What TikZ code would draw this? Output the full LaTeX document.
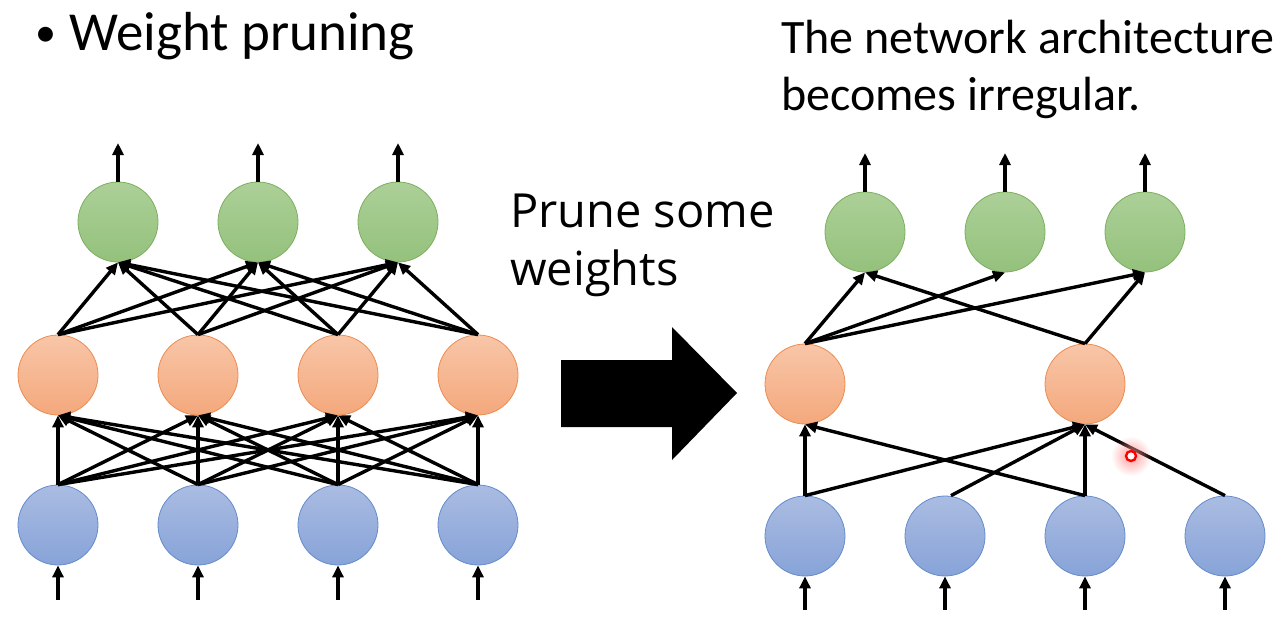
\documentclass[tikz,border=0pt]{standalone}
\usepackage{fontspec}
\setmainfont{Carlito}
\newfontfamily\osans{Open Sans}
\usetikzlibrary{arrows.meta,fadings}
\definecolor{gtop}{RGB}{172,208,152}
\definecolor{gbot}{RGB}{148,193,124}
\definecolor{gline}{RGB}{125,175,95}
\definecolor{otop}{RGB}{248,198,168}
\definecolor{obot}{RGB}{244,168,124}
\definecolor{oline}{RGB}{237,140,80}
\definecolor{btop}{RGB}{170,188,226}
\definecolor{bbot}{RGB}{135,163,216}
\definecolor{bline}{RGB}{100,140,205}
\tikzfading[name=halofade, inner color=transparent!0, outer color=transparent!100]
\begin{document}
\begin{tikzpicture}[x=1pt,y=-1pt,
  neuron/.style={circle, minimum size=80pt, inner sep=0pt, line width=0.8pt},
  gnode/.style={neuron, draw=gline, top color=gtop, bottom color=gbot},
  onode/.style={neuron, draw=oline, top color=otop, bottom color=obot},
  bnode/.style={neuron, draw=bline, top color=btop, bottom color=bbot},
  edge/.style={line width=3.4pt, -{Triangle[length=12pt,width=11pt]}},
  txt/.style={inner sep=0pt, anchor=base west},
]
\useasboundingbox (0,0) rectangle (1276,630);

% texts
\node[txt, font=\fontsize{42}{50}\selectfont] (bul) at (35,46) {•};
\node[txt, font=\fontsize{55}{66}\selectfont] (title) at (69,50) {Weight pruning};
\node[txt, font=\fontsize{48}{57}\selectfont] (ta) at (781,53) {The network architecture};
\node[txt, font=\fontsize{48}{57}\selectfont] (tb) at (781,110) {becomes irregular.};
\node[txt, font=\osans\fontsize{47}{58}\selectfont] (pa) at (510,227) {Prune some};
\node[txt, font=\osans\fontsize{47}{58}\selectfont] (pb) at (510,285) {weights};

% big arrow
\fill[black] (561,360) -- (672,360) -- (672,327) -- (737,393) -- (672,460) -- (672,427) -- (561,427) -- cycle;

% left network
\foreach \k/\x in {1/118,2/258,3/398} {
  \node[gnode] (lg\k) at (\x,222) {};
  \coordinate (lout\k) at (\x,143);
}
\foreach \k/\x in {1/58,2/198,3/338,4/478} {
  \node[onode] (lo\k) at (\x,375) {};
  \node[bnode] (lb\k) at (\x,525) {};
  \coordinate (lin\k) at (\x,600);
}
\foreach \i in {1,...,4} {
  \foreach \j in {1,...,4} { \draw[edge] (lb\i.north) -- (lo\j.south); }
  \foreach \j in {1,...,3} { \draw[edge] (lo\i.north) -- (lg\j.south); }
  \draw[edge] (lin\i) -- (lb\i.south);
}
\foreach \k in {1,...,3} { \draw[edge] (lg\k.north) -- (lout\k); }

% right network
\foreach \k/\x in {1/865,2/1005,3/1145} {
  \node[gnode] (rg\k) at (\x,232) {};
  \coordinate (rout\k) at (\x,153);
}
\node[onode] (ro1) at (805,384) {};
\node[onode] (ro2) at (1085,384) {};
\foreach \k/\x in {1/805,2/945,3/1085,4/1225} {
  \node[bnode] (rb\k) at (\x,536) {};
  \coordinate (rin\k) at (\x,610);
  \draw[edge] (rin\k) -- (rb\k.south);
}
\foreach \k in {1,...,3} { \draw[edge] (rg\k.north) -- (rout\k); }
\draw[edge] (rb1.north) -- (ro1.south);
\draw[edge] (rb1.north) -- (ro2.south);
\draw[edge] ([xshift=6pt]rb2.north) -- (ro2.south);
\draw[edge] (rb3.north) -- (ro1.south);
\draw[edge] (rb3.north) -- (ro2.south);
\draw[edge] (rb4.north) -- (ro2.south);
\draw[edge] (ro1.north) -- (rg1.south);
\draw[edge] (ro1.north) -- (rg2.south);
\draw[edge] (ro1.north) -- (rg3.south);
\draw[edge] (ro2.north) -- (rg1.south);
\draw[edge] (ro2.north) -- (rg3.south);

% laser pointer dot
\fill[red!45!white, path fading=halofade, fill opacity=0.85] (1131,456) circle (20pt);
\draw[red, line width=2.4pt, fill=white] (1131,456) circle (5pt);
\end{tikzpicture}
\end{document}
